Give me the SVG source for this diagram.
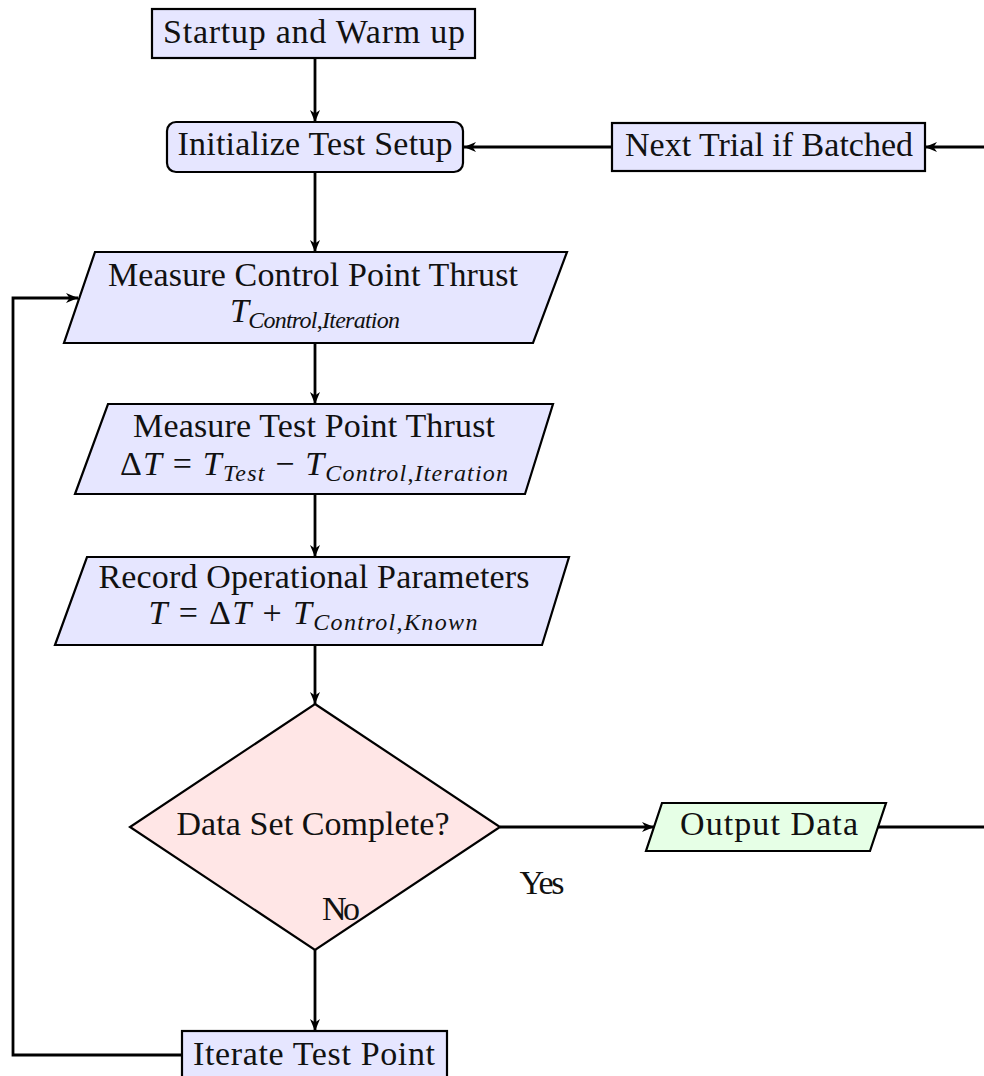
<svg xmlns="http://www.w3.org/2000/svg" width="984" height="1076" viewBox="0 0 984 1076">
  <defs>
    <marker id="arrow" markerUnits="userSpaceOnUse" markerWidth="14" markerHeight="12" refX="12" refY="5" orient="auto">
      <path d="M0,0 L12,5 L0,10 L3.5,5 Z" fill="#000"/>
    </marker>
    <style>
      .proc { fill: #E6E6FF; stroke: #000; stroke-width: 2.2; }
      .io { fill: #E6E6FF; stroke: #000; stroke-width: 2.2; }
      .out { fill: #E6FFE6; stroke: #000; stroke-width: 2.2; }
      .dec { fill: #FFE6E6; stroke: #000; stroke-width: 2.2; }
      .lbl { font-family: "Liberation Serif", "Times New Roman", serif; font-size: 34px; fill: #111; text-anchor: middle; }
      .it { font-style: italic; }
      .sub { font-style: italic; font-size: 24px; }
      .subr { font-size: 24px; }
      .edge { fill: none; stroke: #000; stroke-width: 2.8; }
      .edge.arr { marker-end: url(#arrow); }
    </style>
  </defs>

  <!-- connectors -->
  <g id="connectors">
    <path class="edge arr" d="M315,58 L315,122"/>
    <path class="edge arr" d="M984,147 L925,147"/>
    <path class="edge arr" d="M612,147 L464,147"/>
    <path class="edge arr" d="M315,172 L315,252"/>
    <path class="edge arr" d="M315,343 L315,404"/>
    <path class="edge arr" d="M315,494 L315,557"/>
    <path class="edge arr" d="M315,645 L315,704"/>
    <path class="edge arr" d="M500,827 L654,827"/>
    <path class="edge" d="M878,827 L984,827"/>
    <path class="edge arr" d="M315,950 L315,1031"/>
    <path class="edge arr" d="M183,1055 L13,1055 L13,298 L78,298"/>
  </g>

  <!-- process steps -->
  <g id="startup">
    <rect class="proc" x="152" y="9" width="323" height="49"/>
    <text class="lbl" x="314" y="43" textLength="302">Startup and Warm up</text>
  </g>

  <g id="init">
    <rect class="proc" x="167" y="122" width="296" height="50" rx="9" ry="9"/>
    <text class="lbl" x="315" y="155" textLength="275">Initialize Test Setup</text>
  </g>

  <g id="next-trial">
    <rect class="proc" x="612" y="123" width="313" height="48"/>
    <text class="lbl" x="769" y="156" textLength="288">Next Trial if Batched</text>
  </g>

  <g id="measure-control">
    <polygon class="io" points="95,252 567,252 533,343 64,343"/>
    <text class="lbl" x="313" y="286" textLength="410">Measure Control Point Thrust</text>
    <text class="lbl" x="315" y="322" textLength="170"><tspan class="it">T</tspan><tspan class="sub" dy="6">Control</tspan><tspan class="subr">,</tspan><tspan class="sub">Iteration</tspan></text>
  </g>

  <g id="measure-test">
    <polygon class="io" points="108,404 553,404 525,494 75,494"/>
    <text class="lbl" x="314" y="437" textLength="362">Measure Test Point Thrust</text>
    <text class="lbl" x="314" y="475" textLength="388">Δ<tspan class="it">T</tspan> = <tspan class="it">T</tspan><tspan class="sub" dy="6">Test</tspan><tspan dy="-6"> − </tspan><tspan class="it">T</tspan><tspan class="sub" dy="6">Control</tspan><tspan class="subr">,</tspan><tspan class="sub">Iteration</tspan></text>
  </g>

  <g id="record">
    <polygon class="io" points="87,557 569,557 542,645 55,645"/>
    <text class="lbl" x="314" y="588" textLength="431">Record Operational Parameters</text>
    <text class="lbl" x="313" y="624" textLength="329"><tspan class="it">T</tspan> = Δ<tspan class="it">T</tspan> + <tspan class="it">T</tspan><tspan class="sub" dy="6">Control</tspan><tspan class="subr">,</tspan><tspan class="sub">Known</tspan></text>
  </g>

  <g id="decision">
    <polygon class="dec" points="315,704 500,827 315,950 130,827"/>
    <text class="lbl" x="313" y="835" textLength="273">Data Set Complete?</text>
    <text class="lbl" x="542" y="894" textLength="45">Yes</text>
    <text class="lbl" x="341" y="920" textLength="38">No</text>
  </g>

  <g id="output">
    <polygon class="out" points="662,803 886,803 870,851 646,851"/>
    <text class="lbl" x="769" y="835" textLength="178">Output Data</text>
  </g>

  <g id="iterate">
    <rect class="proc" x="182" y="1031" width="265" height="50"/>
    <text class="lbl" x="314" y="1065" textLength="242">Iterate Test Point</text>
  </g>
</svg>
